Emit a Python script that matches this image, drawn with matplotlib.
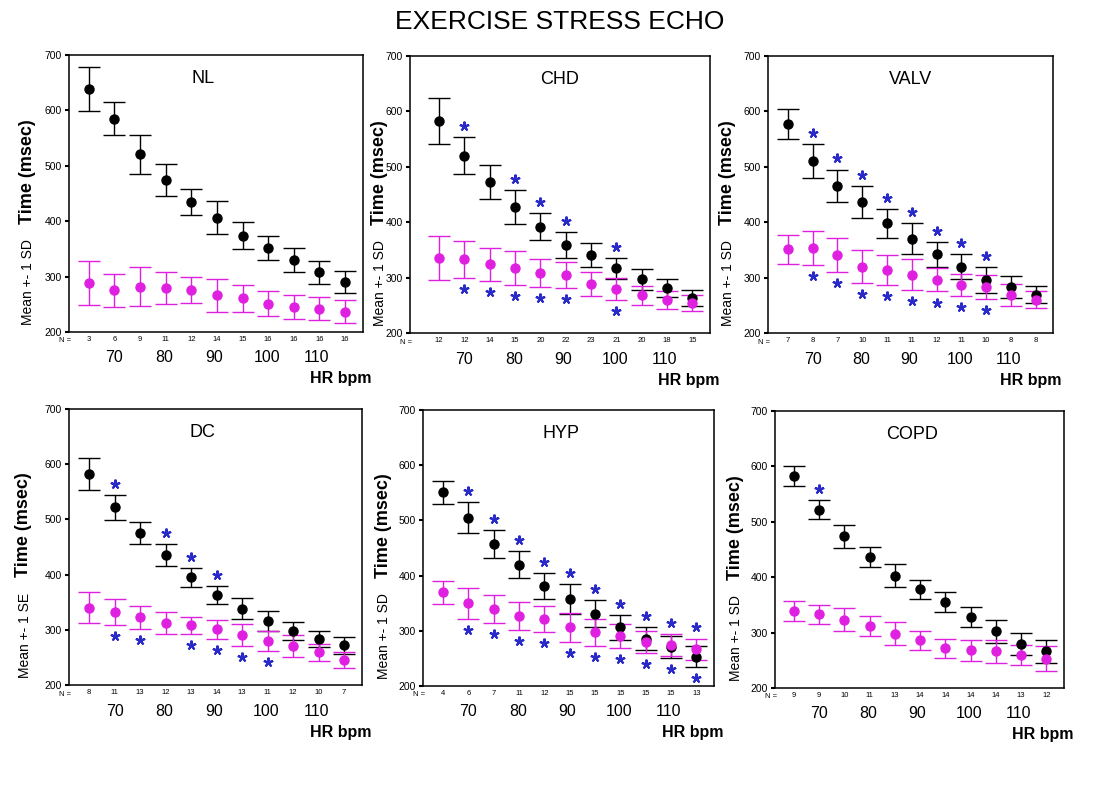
import numpy as np
import matplotlib.pyplot as plt

plt.rcParams['font.family'] = ['Liberation Sans', 'DejaVu Sans']

W, H = 1120, 800

# shared labels
hr_labels = ['70', '80', '90', '100', '110']
hr_label_pos = [2.0, 3.95, 5.9, 7.95, 9.9]
x = np.arange(1, 12)

# NL
nl_n = [3, 6, 9, 11, 12, 14, 15, 16, 16, 16, 16]
nl_upper = [639, 585, 521, 474, 435, 406, 374, 352, 330, 308, 290]
nl_upper_err = [40, 30, 35, 29, 23, 30, 25, 22, 22, 21, 20]
nl_lower = [288, 275, 282, 279, 276, 266, 261, 251, 245, 242, 237]
nl_lower_err = [40, 30, 35, 29, 23, 30, 24, 23, 21, 21, 20]
nl_star_hi = []
nl_star_lo = []

# CHD
chd_n = [12, 12, 14, 15, 20, 22, 23, 21, 20, 18, 15]
chd_upper = [583, 520, 472, 427, 392, 359, 341, 317, 297, 281, 263]
chd_upper_err = [41, 33, 31, 31, 25, 23, 22, 19, 19, 16, 15]
chd_lower = [335, 333, 324, 317, 308, 305, 288, 279, 268, 259, 254]
chd_lower_err = [40, 33, 30, 31, 25, 23, 22, 20, 17, 16, 15]
chd_star_hi = [2, 4, 5, 6, 8]
chd_star_lo = [2, 3, 4, 5, 6, 8]

# VALV
valv_n = [7, 8, 7, 10, 11, 11, 12, 11, 10, 8, 8]
valv_upper = [577, 510, 466, 436, 398, 370, 342, 320, 296, 283, 269]
valv_upper_err = [27, 31, 29, 29, 26, 28, 23, 22, 23, 19, 15]
valv_lower = [351, 353, 341, 320, 313, 305, 296, 287, 283, 269, 260]
valv_lower_err = [26, 31, 30, 29, 27, 28, 21, 20, 22, 20, 15]
valv_star_hi = [2, 3, 4, 5, 6, 7, 8, 9]
valv_star_lo = [2, 3, 4, 5, 6, 7, 8, 9]

# DC
dc_n = [8, 11, 13, 12, 13, 14, 13, 11, 12, 10, 7]
dc_upper = [582, 522, 475, 436, 395, 363, 338, 316, 298, 283, 272]
dc_upper_err = [29, 23, 20, 20, 17, 17, 19, 18, 17, 15, 15]
dc_lower = [340, 332, 323, 312, 308, 301, 291, 280, 270, 259, 245]
dc_lower_err = [28, 23, 21, 20, 16, 17, 20, 18, 20, 16, 15]
dc_star_hi = [2, 4, 5, 6]
dc_star_lo = [2, 3, 5, 6, 7, 8]

# HYP
hyp_n = [4, 6, 7, 11, 12, 15, 15, 15, 15, 15, 13]
hyp_upper = [551, 505, 457, 420, 381, 357, 331, 306, 286, 270, 253]
hyp_upper_err = [21, 28, 25, 25, 23, 27, 24, 22, 21, 20, 19]
hyp_lower = [370, 350, 339, 327, 321, 306, 297, 291, 280, 274, 267]
hyp_lower_err = [21, 28, 25, 25, 24, 27, 25, 22, 20, 20, 19]
hyp_star_hi = [2, 3, 4, 5, 6, 7, 8, 9, 10, 11]
hyp_star_lo = [2, 3, 4, 5, 6, 7, 8, 9, 10, 11]

# COPD
copd_n = [9, 9, 10, 11, 13, 14, 14, 14, 14, 13, 12]
copd_upper = [583, 522, 474, 436, 403, 378, 356, 329, 302, 280, 266]
copd_upper_err = [18, 17, 21, 18, 21, 17, 18, 18, 20, 20, 21]
copd_lower = [339, 333, 323, 312, 298, 286, 272, 268, 266, 260, 253]
copd_lower_err = [18, 17, 21, 18, 21, 17, 17, 19, 20, 18, 23]
copd_star_hi = [2]
copd_star_lo = []

panels = [
    ('NL', 'SD', nl_n, nl_upper, nl_upper_err, nl_lower, nl_lower_err, nl_star_hi, nl_star_lo),
    ('CHD', 'SD', chd_n, chd_upper, chd_upper_err, chd_lower, chd_lower_err, chd_star_hi, chd_star_lo),
    ('VALV', 'SD', valv_n, valv_upper, valv_upper_err, valv_lower, valv_lower_err, valv_star_hi, valv_star_lo),
    ('DC', 'SE', dc_n, dc_upper, dc_upper_err, dc_lower, dc_lower_err, dc_star_hi, dc_star_lo),
    ('HYP', 'SD', hyp_n, hyp_upper, hyp_upper_err, hyp_lower, hyp_lower_err, hyp_star_hi, hyp_star_lo),
    ('COPD', 'SD', copd_n, copd_upper, copd_upper_err, copd_lower, copd_lower_err, copd_star_hi, copd_star_lo),
]

# layout in pixels: left, top, right, bottom, xlim left, title x, ylabel offset
boxes = [
    (69, 55, 363, 332, 0.23, 0.455, -42),
    (410, 56, 710, 333, -0.15, 0.5, -31),
    (768, 56, 1053, 333, 0.2, 0.5, -41),
    (69, 409, 362, 685, 0.21, 0.455, -45),
    (423, 410, 714, 686, 0.21, 0.475, -40),
    (775, 411, 1064, 688, 0.25, 0.475, -40),
]

black = '#000000'
magenta = '#E020E0'
blue = '#2A2AC8'
star_off = 20

fig = plt.figure(figsize=(W / 100, H / 100), dpi=100)
fig.text(560 / W, 1 - 22 / H, 'EXERCISE STRESS ECHO', ha='center', va='center', fontsize=19)

for (name, sd, n, up, up_e, lo, lo_e, s_hi, s_lo), box in zip(panels, boxes):
    l, t, r, b, xl, tx, yoff = box
    w, h = r - l, b - t
    ax = fig.add_axes([l / W, 1 - b / H, w / W, h / H])
    up, up_e, lo, lo_e = map(np.array, (up, up_e, lo, lo_e))

    ax.errorbar(x, up, yerr=up_e, fmt='o', color=black, ms=6.5, capsize=8,
                elinewidth=1, capthick=1)
    ax.errorbar(x, lo, yerr=lo_e, fmt='o', color=magenta, ms=6.5, capsize=8,
                elinewidth=1, capthick=1)

    # significance stars sit just outside the outer caps
    top = np.maximum(up + up_e, lo + lo_e)
    bot = np.minimum(up - up_e, lo - lo_e)
    hi_idx = np.array(s_hi, dtype=int) - 1
    lo_idx = np.array(s_lo, dtype=int) - 1
    if len(hi_idx):
        ax.plot(x[hi_idx], top[hi_idx] + star_off, ls='none', marker=(5, 2, 0),
                ms=7, mew=1.5, color=blue)
    if len(lo_idx):
        ax.plot(x[lo_idx], bot[lo_idx] - star_off, ls='none', marker=(5, 2, 0),
                ms=7, mew=1.5, color=blue)

    ax.set_xlim(xl, 11.7)
    ax.set_ylim(200, 700)
    ax.set_yticks([200, 300, 400, 500, 600, 700])
    ax.tick_params(axis='y', length=3, width=1.5, pad=2, labelsize=7.5)
    ax.set_xticks(x)
    ax.set_xticklabels([str(v) for v in n])
    ax.tick_params(axis='x', length=0, pad=3, labelsize=5.5)
    for sp in ax.spines.values():
        sp.set_linewidth(1.1)

    ax.text(tx, 0.915, name, transform=ax.transAxes, ha='center', va='center', fontsize=13)

    # N row label, HR labels and axis title below
    fig.text((l + 2) / W, 1 - (b + 9) / H, 'N =', ha='right', va='center', fontsize=5.5)
    for lab, pos in zip(hr_labels, hr_label_pos):
        ax.text(pos, -26 / h, lab, transform=ax.get_xaxis_transform(),
                ha='center', va='center', fontsize=11.5)
    ax.text(1 + 9 / w, -47 / h, 'HR bpm', transform=ax.transAxes, ha='right',
            va='center', fontsize=11.5, fontweight='bold')

    # y labels
    fig.text((l + yoff) / W, 1 - (b - 0.58 * h) / H, 'Time (msec)', rotation=90,
             ha='center', va='center', fontsize=13, fontweight='bold')
    fig.text((l + yoff + 1) / W, 1 - (b - 0.18 * h) / H, 'Mean +- 1 ' + sd, rotation=90,
             ha='center', va='center', fontsize=10)

fig.savefig('out.png', dpi=100)
